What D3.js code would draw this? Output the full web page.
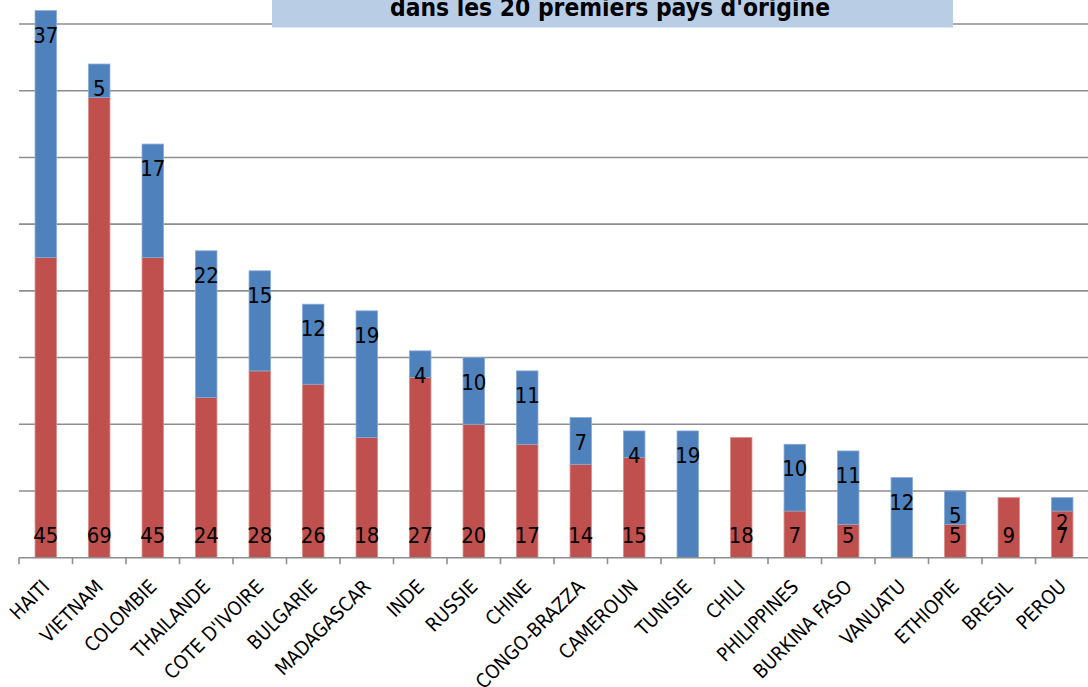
<!DOCTYPE html>
<html>
<head>
<meta charset="utf-8">
<script src="https://cdn.jsdelivr.net/npm/d3@7"></script>
<style>
  html, body { margin: 0; padding: 0; background: #fff; }
  svg { display: block; }
  text { font-family: "Liberation Sans Narrow", "DejaVu Sans Condensed", "Liberation Sans", sans-serif; }
</style>
</head>
<body>
<svg id="chart" width="1088" height="687"></svg>
<script>
const categories = ["HAITI","VIETNAM","COLOMBIE","THAILANDE","COTE D'IVOIRE","BULGARIE","MADAGASCAR","INDE","RUSSIE","CHINE","CONGO-BRAZZA","CAMEROUN","TUNISIE","CHILI","PHILIPPINES","BURKINA FASO","VANUATU","ETHIOPIE","BRESIL","PEROU"];
const redValues  = [45,69,45,24,28,26,18,27,20,17,14,15,0,18,7,5,0,5,9,7];
const blueValues = [37,5,17,22,15,12,19,4,10,11,7,4,19,0,10,11,12,5,0,2];
const gridTicks = [10,20,30,40,50,60,70,80];
const titleText = "dans les 20 premiers pays d'origine";

const svg = d3.select("#chart");
const W = 1088;
const baseY = 557.7;

const x = d3.scaleBand().domain(categories).range([19, 1089]).paddingInner(0.6).paddingOuter(0.3);
const y = d3.scaleLinear().domain([0, 80]).range([baseY, 24]);
const step = x.step();

// gridlines
svg.append("g").selectAll("line").data(gridTicks).join("line")
  .attr("x1", 19).attr("x2", W)
  .attr("y1", d => y(d)).attr("y2", d => y(d))
  .attr("stroke", "#8e8e8e").attr("stroke-width", 1.6);

// title box
svg.append("rect").attr("x", 272).attr("y", -10).attr("width", 681).attr("height", 37.5)
  .attr("fill", "#B9CDE5");
svg.append("text").attr("x", 610).attr("y", 16).attr("text-anchor", "middle")
  .attr("font-weight", "bold").attr("font-size", 24)
  .attr("textLength", 440).attr("lengthAdjust", "spacingAndGlyphs")
  .attr("fill", "#000").text(titleText);

const data = categories.map((c, i) => ({c, r: redValues[i], b: blueValues[i]}));

// red bars
svg.append("g").selectAll("rect").data(data.filter(d => d.r > 0)).join("rect")
  .attr("x", d => x(d.c)).attr("width", x.bandwidth())
  .attr("y", d => y(d.r)).attr("height", d => y(0) - y(d.r))
  .attr("fill", "#C0504D").attr("stroke", "#d88a88").attr("stroke-width", 0.8);

// blue bars
svg.append("g").selectAll("rect").data(data.filter(d => d.b > 0)).join("rect")
  .attr("x", d => x(d.c)).attr("width", x.bandwidth())
  .attr("y", d => y(d.r + d.b)).attr("height", d => y(d.r) - y(d.r + d.b))
  .attr("fill", "#4F81BD").attr("stroke", "#86a9d6").attr("stroke-width", 0.8);

// x axis line and boundary ticks
svg.append("line").attr("x1", 19).attr("x2", W).attr("y1", baseY).attr("y2", baseY)
  .attr("stroke", "#8e8e8e").attr("stroke-width", 1.6);
const bounds = categories.map(c => x(c) - x.paddingOuter() * step);
svg.append("g").selectAll("line").data(bounds).join("line")
  .attr("x1", d => d).attr("x2", d => d)
  .attr("y1", baseY).attr("y2", baseY + 6.5)
  .attr("stroke", "#8e8e8e").attr("stroke-width", 1.6);

// data labels
svg.append("g").selectAll("text").data(data.filter(d => d.r > 0)).join("text")
  .attr("x", d => x(d.c) + x.bandwidth() / 2).attr("y", 543)
  .attr("text-anchor", "middle").attr("font-size", 22).attr("fill", "#000")
  .text(d => d.r);
svg.append("g").selectAll("text").data(data.filter(d => d.b > 0)).join("text")
  .attr("x", d => x(d.c) + x.bandwidth() / 2).attr("y", d => y(d.r + d.b) + 32)
  .attr("text-anchor", "middle").attr("font-size", 22).attr("fill", "#000")
  .text(d => d.b);

// category labels
svg.append("g").selectAll("text").data(categories).join("text")
  .attr("transform", c => `translate(${x(c) + x.bandwidth() / 2 + 5},588) rotate(-45)`)
  .attr("text-anchor", "end").attr("font-size", 19.5).attr("fill", "#000")
  .text(c => c);
</script>
</body>
</html>
